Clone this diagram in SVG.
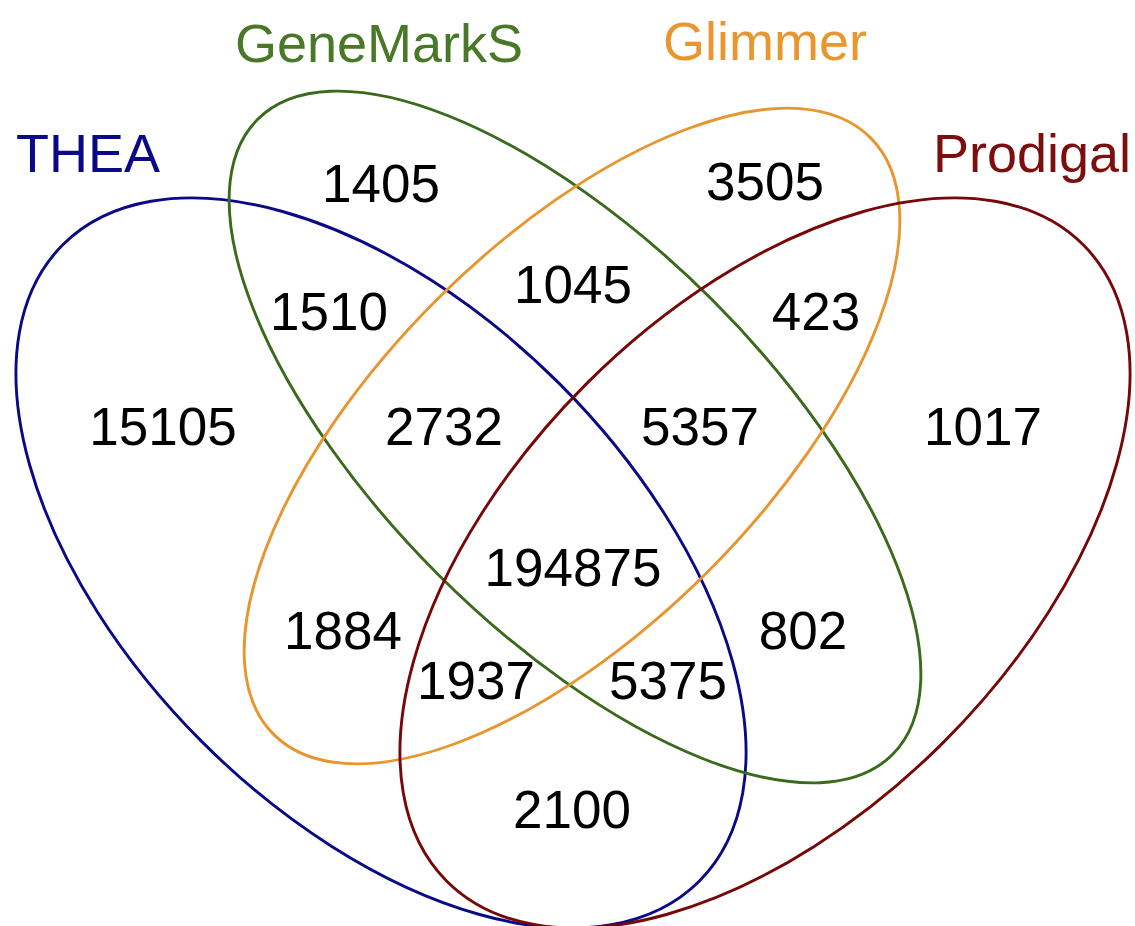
<svg xmlns="http://www.w3.org/2000/svg" width="1135" height="926" viewBox="0 0 1135 926">
<style>
.e{fill:none;stroke-width:2.9}
.n{font-family:"Liberation Sans",Arial,sans-serif;font-size:53px;fill:#000;text-anchor:middle}
.t{font-family:"Liberation Sans",Arial,sans-serif;font-size:54px;text-anchor:middle}
</style>
<rect width="1135" height="926" fill="#fff"/>
<g id="sets">
<g id="thea"><ellipse class="e" cx="381" cy="563" rx="450" ry="253" transform="rotate(45 381 563)" stroke="#0a0a86"/></g>
<g id="genemarks"><ellipse class="e" cx="575" cy="437" rx="449" ry="194" transform="rotate(45 575 437)" stroke="#3a6a1c"/></g>
<g id="glimmer"><ellipse class="e" cx="572" cy="436" rx="422" ry="192" transform="rotate(-45 572 436)" stroke="#e8952f"/></g>
<g id="prodigal"><ellipse class="e" cx="765" cy="563" rx="450" ry="253" transform="rotate(-45 765 563)" stroke="#760808"/></g>
</g>
<g id="titles">
<text class="t" x="88" y="172" fill="#0a0a86">THEA</text>
<text class="t" x="379" y="62" fill="#4a7829">GeneMarkS</text>
<text class="t" x="765" y="60" fill="#e8962e">Glimmer</text>
<text class="t" x="1032" y="172" fill="#7c0e0e">Prodigal</text>
</g>
<g id="counts">
<text class="n" x="381" y="202">1405</text>
<text class="n" x="765" y="200">3505</text>
<text class="n" x="329" y="330">1510</text>
<text class="n" x="573" y="303">1045</text>
<text class="n" x="816" y="330">423</text>
<text class="n" x="163" y="445">15105</text>
<text class="n" x="444" y="445">2732</text>
<text class="n" x="700" y="445">5357</text>
<text class="n" x="983" y="445">1017</text>
<text class="n" x="573" y="586">194875</text>
<text class="n" x="343" y="649">1884</text>
<text class="n" x="803" y="649">802</text>
<text class="n" x="476" y="699">1937</text>
<text class="n" x="668" y="699">5375</text>
<text class="n" x="572" y="828">2100</text>
</g>
</svg>
